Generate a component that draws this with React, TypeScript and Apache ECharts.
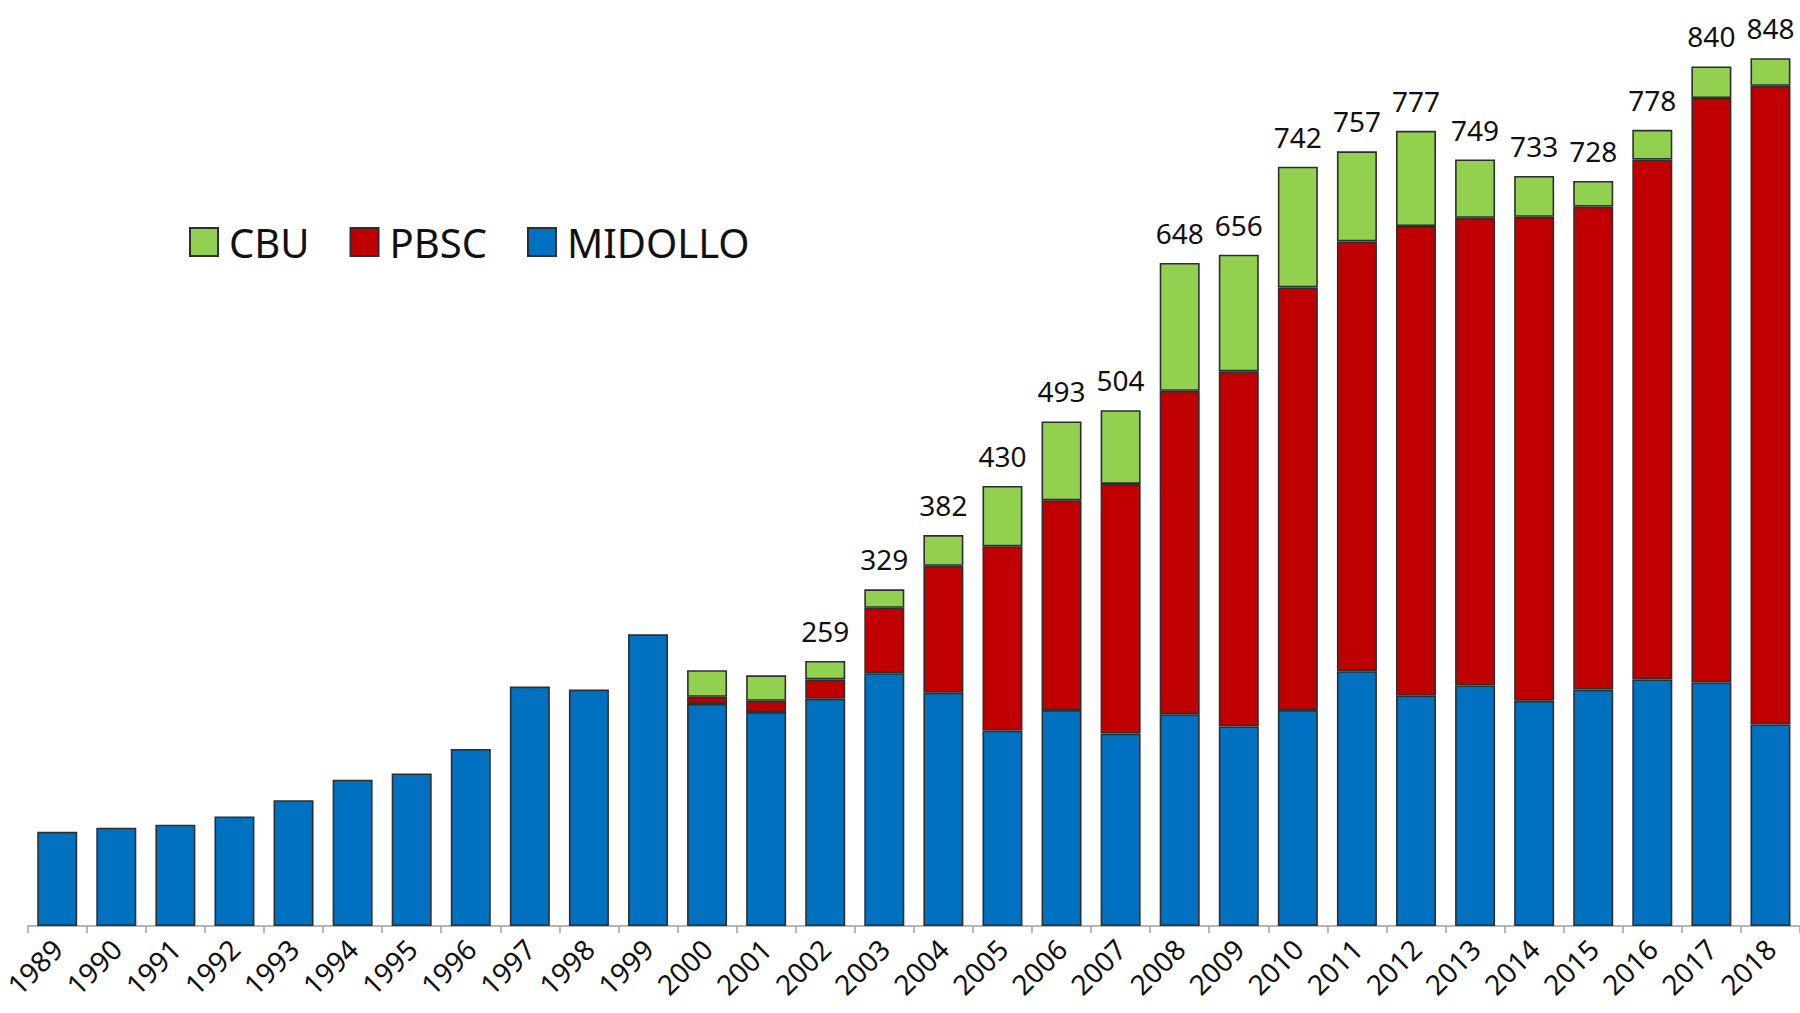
import React, { useEffect, useRef } from "react";
import * as echarts from "echarts";

const years = [
  "1989", "1990", "1991", "1992", "1993", "1994", "1995", "1996", "1997", "1998",
  "1999", "2000", "2001", "2002", "2003", "2004", "2005", "2006", "2007", "2008",
  "2009", "2010", "2011", "2012", "2013", "2014", "2015", "2016", "2017", "2018",
];

const midollo = [
  92, 96, 99, 107, 123, 143, 149, 173, 234, 231,
  285, 217, 209, 222, 247, 228, 191, 211, 188, 207,
  195, 211, 249, 225, 235, 220, 231, 241, 238, 197,
];

const pbsc = [
  null, null, null, null, null, null, null, null, null, null,
  null, 7, 11, 19, 64, 124, 180, 205, 244, 316,
  347, 413, 420, 459, 457, 473, 472, 508, 571, 624,
];

const cbu = [
  null, null, null, null, null, null, null, null, null, null,
  null, 26, 25, 18, 18, 30, 59, 77, 72, 125,
  114, 118, 88, 93, 57, 40, 25, 29, 31, 27,
];

const totalLabels = [
  null, null, null, null, null, null, null, null, null, null,
  null, null, null, 259, 329, 382, 430, 493, 504, 648,
  656, 742, 757, 777, 749, 733, 728, 778, 840, 848,
];

const FONT = "'Noto Sans', 'Open Sans', sans-serif";

export default function App() {
  const ref = useRef<HTMLDivElement>(null);

  useEffect(() => {
    if (!ref.current) return;
    const chart = echarts.init(ref.current, undefined, { renderer: "svg" });
    const border = { borderColor: "#2e2e2e", borderWidth: 1.6 };
    chart.setOption({
      animation: false,
      backgroundColor: "#ffffff",
      textStyle: { fontFamily: FONT },
      legend: {
        data: ["CBU", "PBSC", "MIDOLLO"],
        left: 184,
        top: 217,
        icon: "rect",
        itemWidth: 28,
        itemHeight: 28,
        itemGap: 40,
        textStyle: {
          fontFamily: FONT,
          fontSize: 40,
          color: "#111",
          padding: [0, 0, 0, 6],
        },
      },
      grid: { left: 24, top: 5, width: 1778, bottom: 87, containLabel: false },
      xAxis: {
        type: "category",
        data: years,
        axisLine: { lineStyle: { color: "#a0a0a0", width: 1.5 } },
        axisTick: { show: true, length: 7, lineStyle: { color: "#a0a0a0", width: 1.5 } },
        axisLabel: {
          rotate: 45,
          fontSize: 28,
          color: "#111",
          margin: 18,
          fontFamily: FONT,
        },
      },
      yAxis: {
        type: "value",
        min: 0,
        max: 900,
        show: false,
        splitLine: { show: false },
      },
      series: [
        {
          name: "MIDOLLO",
          type: "bar",
          stack: "tot",
          data: midollo,
          barWidth: 40,
          itemStyle: { color: "#0070C0", ...border },
        },
        {
          name: "PBSC",
          type: "bar",
          stack: "tot",
          data: pbsc,
          barWidth: 40,
          itemStyle: { color: "#C00000", ...border },
        },
        {
          name: "CBU",
          type: "bar",
          stack: "tot",
          data: cbu,
          barWidth: 40,
          itemStyle: { color: "#92D050", ...border },
          label: {
            show: true,
            position: "top",
            distance: 16,
            fontSize: 28,
            color: "#111",
            fontFamily: FONT,
            formatter: (p: any) => {
              const v = totalLabels[p.dataIndex];
              return v == null ? "" : String(v);
            },
          },
        },
      ],
    });
    return () => chart.dispose();
  }, []);

  return (
    <div
      ref={ref}
      style={{ position: "fixed", left: 0, top: 0, width: 1800, height: 1013 }}
    />
  );
}
